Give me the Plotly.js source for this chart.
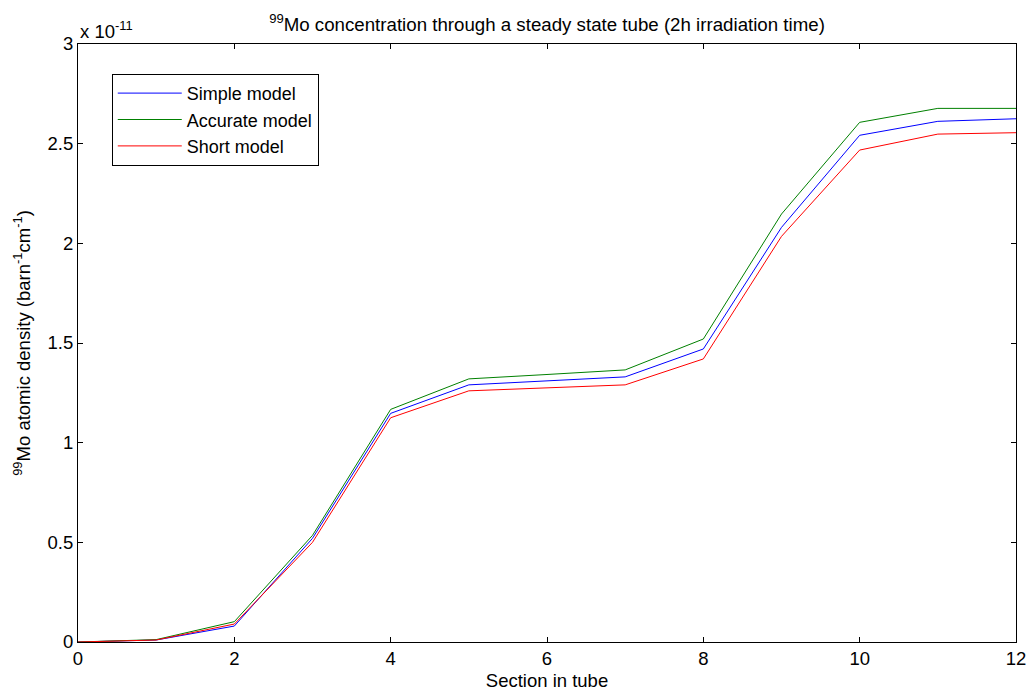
<!DOCTYPE html>
<html>
<head>
<meta charset="utf-8">
<script src="https://cdn.plot.ly/plotly-3.0.1.min.js"></script>
<style>html,body{margin:0;padding:0;background:#fff;}#chart{width:1032px;height:695px;}</style>
</head>
<body>
<div id="chart"></div>
<script>
const sections = [0, 1, 2, 3, 4, 5, 6, 7, 8, 9, 10, 11, 12];
// values in units of 1e-11 barn^-1 cm^-1
const simpleModel   = [0, 0.010, 0.080, 0.520, 1.147, 1.290, 1.310, 1.330, 1.470, 2.080, 2.542, 2.612, 2.625];
const accurateModel = [0, 0.012, 0.102, 0.535, 1.167, 1.320, 1.342, 1.365, 1.520, 2.147, 2.607, 2.677, 2.677];
const shortModel    = [0, 0.010, 0.090, 0.500, 1.125, 1.260, 1.275, 1.290, 1.420, 2.035, 2.468, 2.548, 2.555];
const xTicks = [0, 2, 4, 6, 8, 10, 12];
const yTicks = [0, 0.5, 1, 1.5, 2, 2.5, 3];
const yTickText = ['0', '0.5', '1', '1.5', '2', '2.5', '3'];

const font = {family: 'Liberation Sans, Arial, sans-serif', size: 18.5, color: '#000'};

const traces = [
  {x: sections, y: simpleModel, name: 'Simple model', mode: 'lines', line: {color: '#0000ff', width: 1}},
  {x: sections, y: accurateModel, name: 'Accurate model', mode: 'lines', line: {color: '#008000', width: 1}},
  {x: sections, y: shortModel, name: 'Short model', mode: 'lines', line: {color: '#ff0000', width: 1}}
];

const layout = {
  width: 1032, height: 695,
  margin: {l: 78, r: 16, t: 44, b: 53},
  paper_bgcolor: '#fff', plot_bgcolor: '#fff',
  font: font,
  title: {text: '<sup>99</sup>Mo concentration through a steady state tube (2h irradiation time)',
          font: {family: font.family, size: 18.7, color: '#000'},
          x: 0.5, xref: 'paper', xanchor: 'center', y: 0.965, yref: 'container', yanchor: 'middle'},
  xaxis: {range: [0, 12], tickvals: xTicks, ticks: 'inside', ticklen: 5, tickcolor: '#000',
          showline: true, linecolor: '#000', linewidth: 1, mirror: 'ticks', showgrid: false, zeroline: false,
          tickfont: font, title: {text: 'Section in tube', font: font, standoff: 5}},
  yaxis: {range: [0, 3], tickvals: yTicks, ticktext: yTickText, ticks: 'inside', ticklen: 5, tickcolor: '#000',
          showline: true, linecolor: '#000', linewidth: 1, mirror: 'ticks', showgrid: false, zeroline: false,
          tickfont: font,
          title: {text: '<sup>99</sup>Mo atomic density (barn<sup>-1</sup>cm<sup>-1</sup>)', font: font, standoff: 12}},
  legend: {x: 0.036, y: 0.95, xanchor: 'left', yanchor: 'top', bgcolor: '#fff', bordercolor: '#000', borderwidth: 1,
           font: {family: font.family, size: 18, color: '#000'}, itemwidth: 64, tracegroupgap: 0},
  showlegend: true,
  annotations: [{text: 'x 10<sup>-11</sup>', xref: 'paper', yref: 'paper', x: 0.0, y: 1.0, xanchor: 'left', yanchor: 'bottom',
                 yshift: 0, xshift: 0, showarrow: false, font: font}]
};

Plotly.newPlot('chart', traces, layout, {staticPlot: true, displayModeBar: false});
</script>
</body>
</html>
